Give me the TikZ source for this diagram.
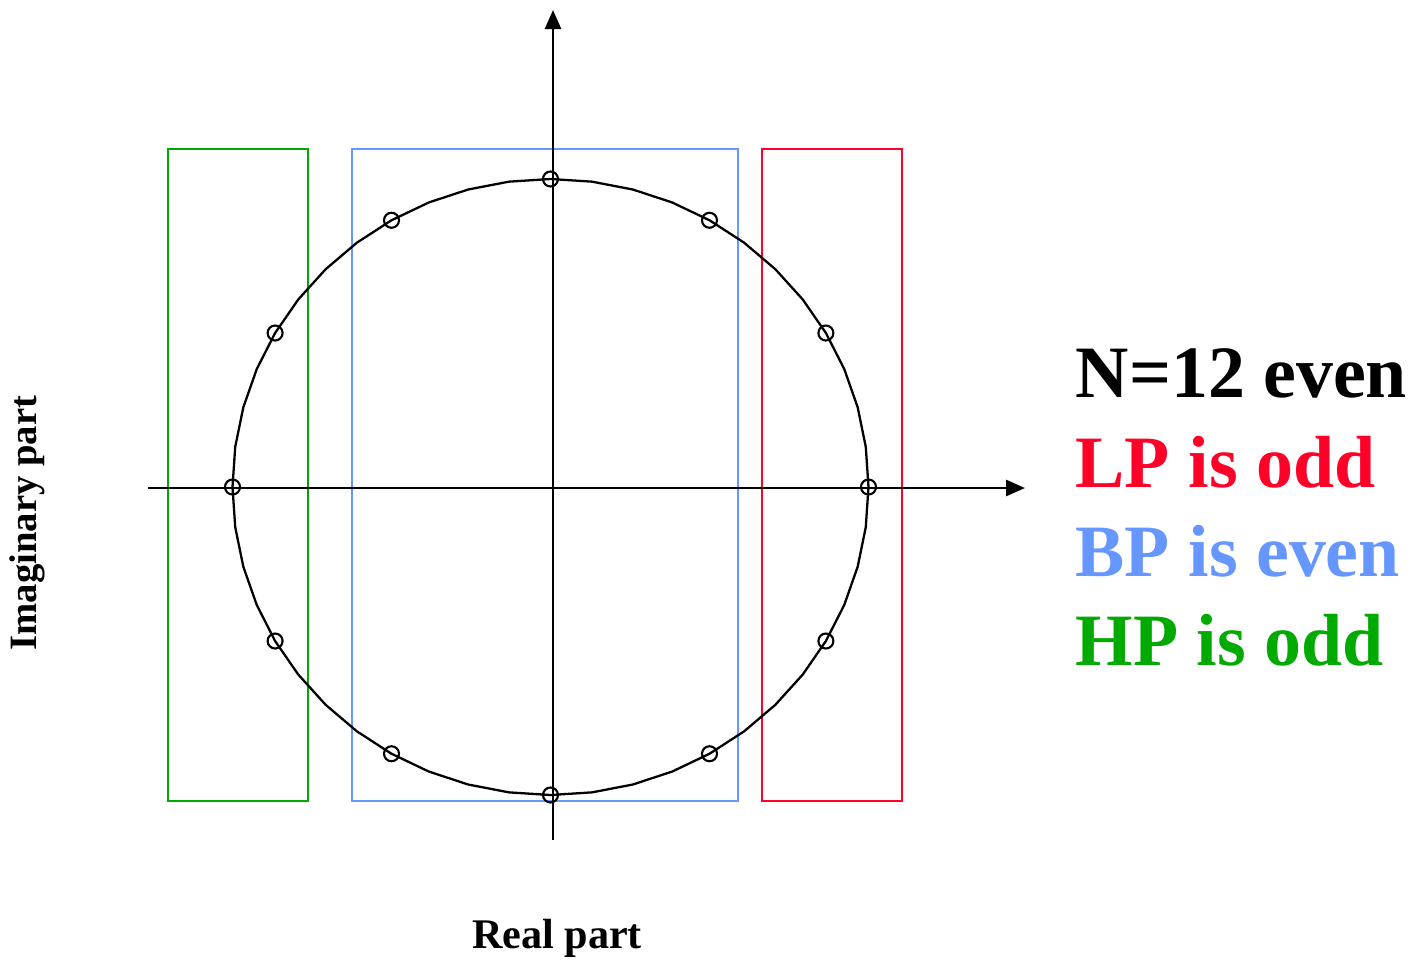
\documentclass[tikz,border=0pt]{standalone}
\usepackage{fontspec}
\setmainfont{Liberation Serif}
\usetikzlibrary{arrows.meta}
\definecolor{lpred}{RGB}{255,0,40}
\definecolor{bpblue}{RGB}{102,150,255}
\definecolor{hpgreen}{RGB}{0,170,0}
\tikzset{
  axis/.style={line width=0.75pt,-{Triangle[length=0.19cm,width=0.16cm]}},
  band/.style={line width=0.7pt},
  marker/.style={circle,draw,line width=0.6pt,minimum size=0.15cm,inner sep=0pt},
  legend/.style={anchor=base west,inner sep=0pt,font=\fontsize{21}{25}\selectfont\bfseries},
  axlabel/.style={inner sep=0pt,font=\fontsize{12}{14}\selectfont\bfseries}
}
\begin{document}
\begin{tikzpicture}[x=0.01cm,y=-0.01cm]
\useasboundingbox (0,0) rectangle (1418,960);
% bands
\draw[band,hpgreen] (168,149) rectangle (308,801);
\draw[band,bpblue] (352,149) rectangle (738,801);
\draw[band,lpred] (762,149) rectangle (902,801);
% axes
\coordinate (xs) at (148,488);
\coordinate (xe) at (1025,488);
\coordinate (ys) at (553,840);
\coordinate (ye) at (553,10);
\draw[axis] (xs) -- (xe);
\draw[axis] (ys) -- (ye);
% unit circle (slightly polygonal)
\draw[line width=0.65pt] plot[samples=49,domain=0:360,variable=\t] ({550.5+318*cos(\t)},{487-308*sin(\t)}) -- cycle;
% markers
\foreach \k in {0,...,11}{
  \node[marker] (p\k) at ({550.5+318*cos(30*\k)},{487-308*sin(30*\k)}) {};
}
% labels
\node[axlabel] (re) at (557,938) {Real part};
\node[axlabel,rotate=90,font=\fontsize{11}{13}\selectfont\bfseries] (im) at (27,523) {Imaginary part};
\node[legend] (n) at (1075,397) {N=12 even};
\node[legend,text=lpred] (lp) at (1075,487) {LP is odd};
\node[legend,text=bpblue] (bp) at (1075,576) {BP is even};
\node[legend,text=hpgreen] (hp) at (1075,665) {HP is odd};
\end{tikzpicture}
\end{document}
